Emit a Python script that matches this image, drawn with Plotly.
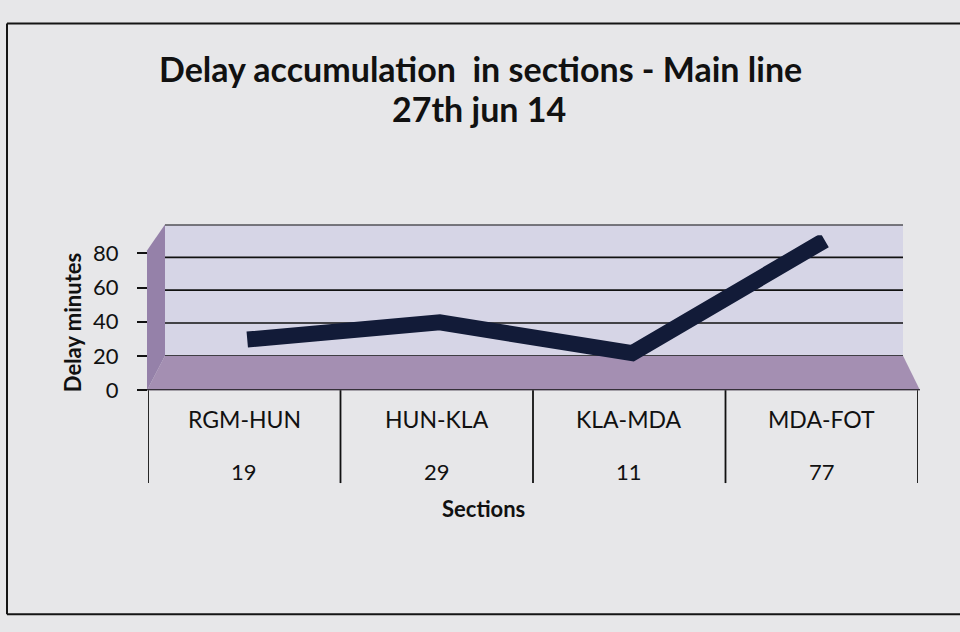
import plotly.graph_objects as go

# ---- data ----
sections = ["RGM-HUN", "HUN-KLA", "KLA-MDA", "MDA-FOT"]
delay_minutes = [19, 29, 11, 77]
y_ticks = [0, 20, 40, 60, 80]
title_line1 = "Delay accumulation  in sections - Main line"
title_line2 = "27th jun 14"
y_title = "Delay minutes"
x_title = "Sections"

W, H = 960, 632
FONT = "Lato"


def X(p):
    return p / W


def Y(p):
    return 1 - p / H


fig = go.Figure()

# line, drawn at the middle depth of the 3-D box
fig.add_trace(go.Scatter(
    x=sections, y=delay_minutes, xaxis="x2", yaxis="y2",
    mode="lines", line=dict(color="#121b38", width=16),
    cliponaxis=False, hoverinfo="x+y", showlegend=False,
))
# empty trace on the front axes so the value axis renders
fig.add_trace(go.Scatter(x=sections, y=[None] * len(sections), mode="markers",
                         showlegend=False, hoverinfo="skip"))

shapes = []
# back wall
shapes.append(dict(type="rect", xref="paper", yref="paper",
                   x0=X(165), x1=X(903), y0=Y(357), y1=Y(220),
                   fillcolor="#d6d5e6", line=dict(width=0), layer="below"))
# floor
shapes.append(dict(type="path", xref="paper", yref="paper",
                   path=f"M {X(147)},{Y(393)} L {X(920)},{Y(393)} L {X(903)},{Y(357)} L {X(165)},{Y(357)} Z",
                   fillcolor="#a48fb2", line=dict(width=0), layer="below"))
# side wall
shapes.append(dict(type="path", xref="paper", yref="paper",
                   path=f"M {X(147)},{Y(393)} L {X(147)},{Y(247)} L {X(165)},{Y(220)} L {X(165)},{Y(357)} Z",
                   fillcolor="#9581a9", line=dict(width=0), layer="below"))
# back-wall gridlines
for v in y_ticks:
    shapes.append(dict(type="line", xref="paper", yref="y3",
                       x0=X(165), x1=X(903), y0=v, y1=v,
                       line=dict(color="#111111", width=1.6), layer="below"))
# floor front edge
shapes.append(dict(type="line", xref="paper", yref="y",
                   x0=X(147), x1=X(920), y0=0, y1=0,
                   line=dict(color="#111111", width=1.8)))
# data-table cell borders
for i in range(len(sections) + 1):
    shapes.append(dict(type="line", xref="x", yref="paper",
                       x0=i - 0.5, x1=i - 0.5, y0=Y(393), y1=Y(490),
                       line=dict(color="#111111", width=1.8)))
# outer frame
for (x0, y0, x1, y1) in [(7, 10, 7, 627), (7, 10, 970, 10), (7, 627, 970, 627)]:
    shapes.append(dict(type="line", xref="paper", yref="paper",
                       x0=X(x0), y0=Y(y0), x1=X(x1), y1=Y(y1),
                       line=dict(color="#151515", width=2)))


def ann(x, y, text, size, xref="paper", angle=0):
    return dict(x=x, xref=xref, y=y, yref="paper", text=text, textangle=angle,
                xanchor="center", yanchor="middle", showarrow=False,
                font=dict(family=FONT, size=size, color="#111"))


annotations = []
for i, (s, v) in enumerate(zip(sections, delay_minutes)):
    annotations.append(ann(i, Y(423), s, 23, xref="x"))
    annotations.append(ann(i, Y(478), str(v), 22, xref="x"))
annotations.append(ann(X(483), Y(517), f"<b>{x_title}</b>", 22))
annotations.append(ann(X(72), Y(323), f"<b>{y_title}</b>", 22, angle=-90))
annotations.append(ann(X(480), Y(57), f"<b>{title_line1}</b>", 34))
annotations.append(ann(X(479), Y(99), f"<b>{title_line2}</b>", 34))

fig.update_layout(
    width=W, height=H,
    margin=dict(l=0, r=0, t=0, b=0),
    paper_bgcolor="#e7e7e9", plot_bgcolor="rgba(0,0,0,0)",
    showlegend=False,
    xaxis=dict(domain=[X(148), X(918)], range=[-0.5, 3.5], type="category",
               categoryarray=sections, showticklabels=False, ticks="",
               showgrid=False, zeroline=False, showline=False),
    yaxis=dict(domain=[Y(393), Y(250)], range=[0, 80], tickvals=y_ticks,
               ticks="outside", ticklen=10, tickwidth=1.8, tickcolor="#111",
               ticklabelstandoff=14,
               tickfont=dict(family=FONT, size=22, color="#111"),
               showgrid=False, zeroline=False, showline=False),
    xaxis2=dict(domain=[X(151), X(921)], range=[-0.5, 3.5], type="category",
                categoryarray=sections, anchor="y2", visible=False),
    yaxis2=dict(domain=[Y(374), Y(231)], range=[0, 80], anchor="x2", visible=False),
    yaxis3=dict(domain=[Y(357), Y(220)], range=[0, 80], anchor="x", visible=False),
    shapes=shapes, annotations=annotations,
)

fig.write_html(
    "out.html",
    config={"displayModeBar": False},
    post_script="document.body.style.margin='0';document.body.style.overflow='hidden';",
)
